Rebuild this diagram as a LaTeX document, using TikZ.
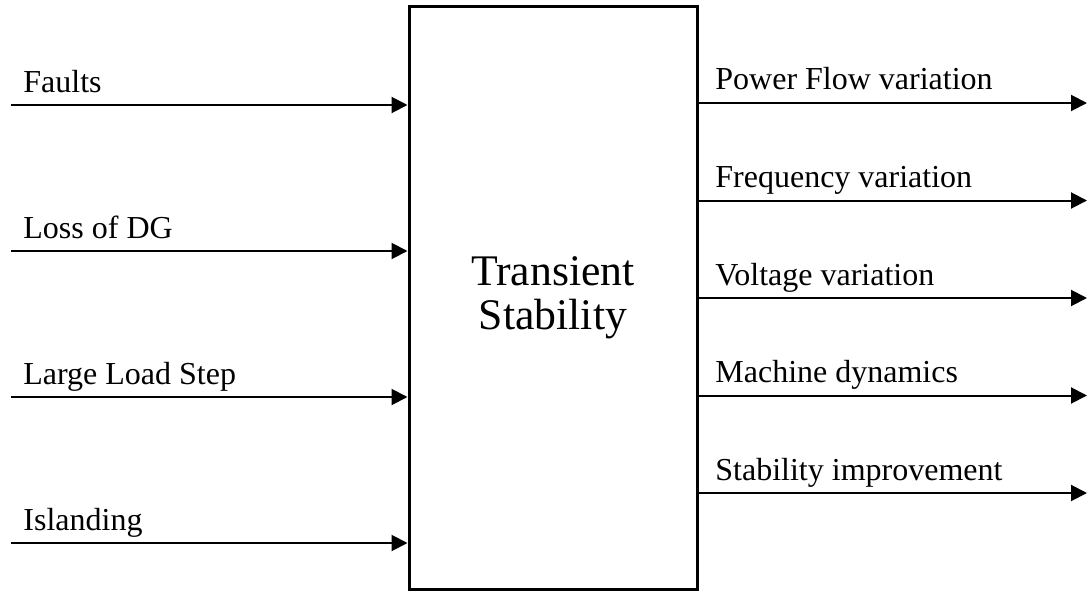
\documentclass[tikz,border=0pt]{standalone}
\usepackage{fontspec}
\setmainfont{Liberation Serif}
\usetikzlibrary{arrows.meta}
\begin{document}
\begin{tikzpicture}[x=0.5pt,y=-0.5pt,
  blockbox/.style={draw, line width=1.5pt, minimum width=144pt, minimum height=291.5pt,
    inner sep=0pt, align=center, font=\fontsize{21.85}{22}\selectfont},
  signal/.style={line width=1pt, -{Triangle[length=8pt,width=8pt]}},
  siglabel/.style={anchor=base west, inner sep=0pt, font=\fontsize{16}{19}\selectfont}]
  \useasboundingbox (0,0) rectangle (1088,594);

  % central block
  \node[blockbox] (ts) at (553,297.5) {Transient\\Stability};

  % inputs
  \foreach \y/\name/\txt in {105/faults/Faults, 251/lossdg/Loss of DG,
      397/loadstep/Large Load Step, 543/island/Islanding}{
    \coordinate (in-\name) at (11,\y);
    \node[siglabel] (lbl-\name) at (23,\y-13) {\txt};
    \draw[signal] (in-\name) -- (ts.west |- in-\name);
  }

  % outputs
  \foreach \y/\name/\txt in {103/pflow/Power Flow variation, 200.5/freq/Frequency variation,
      298/volt/Voltage variation, 395.5/mach/Machine dynamics,
      493/stab/Stability improvement}{
    \coordinate (out-\name) at (1087,\y);
    \node[siglabel] (lbl-\name) at (715,\y-13) {\txt};
    \draw[signal] (ts.east |- out-\name) -- (out-\name);
  }
\end{tikzpicture}
\end{document}
